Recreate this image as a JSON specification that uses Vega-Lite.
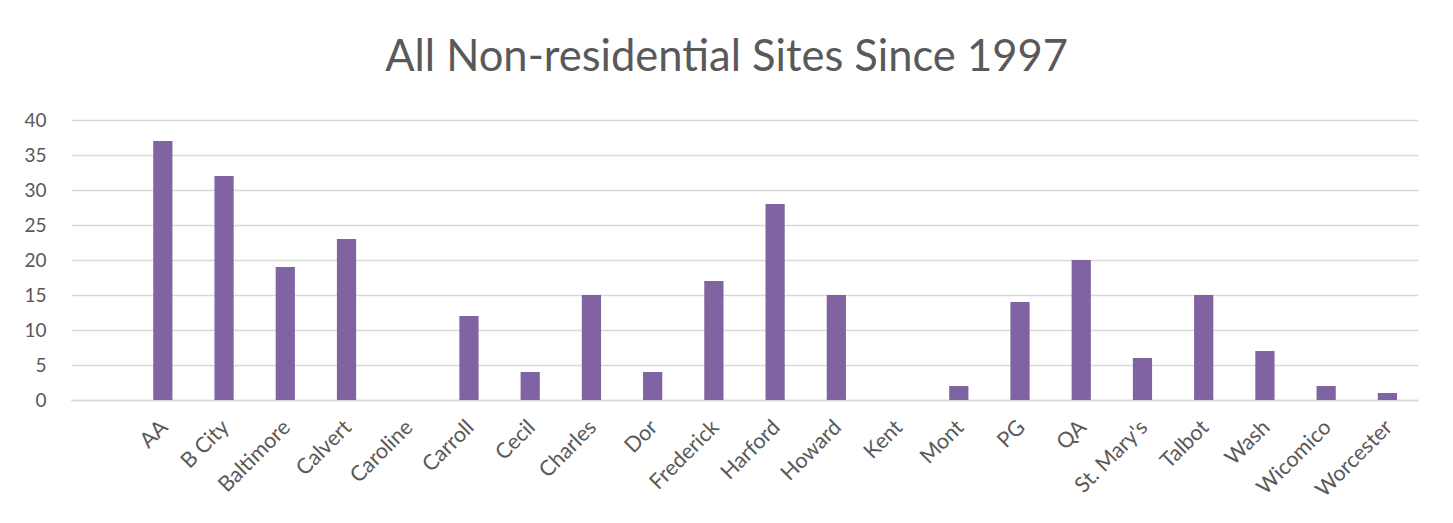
{
  "$schema": "https://vega.github.io/schema/vega-lite/v6.json",
  "autosize": "none",
  "width": 1347,
  "height": 280,
  "padding": {"left": 71, "top": 120, "right": 35, "bottom": 123},
  "background": "white",
  "title": {
    "text": "All Non-residential Sites Since 1997",
    "font": "Lato",
    "fontSize": 43.5,
    "fontWeight": "normal",
    "color": "#595959",
    "anchor": "middle",
    "dx": -18,
    "offset": 31
  },
  "data": {
    "values": [
      {"county": "AA", "sites": 37},
      {"county": "B City", "sites": 32},
      {"county": "Baltimore", "sites": 19},
      {"county": "Calvert", "sites": 23},
      {"county": "Caroline", "sites": 0},
      {"county": "Carroll", "sites": 12},
      {"county": "Cecil", "sites": 4},
      {"county": "Charles", "sites": 15},
      {"county": "Dor", "sites": 4},
      {"county": "Frederick", "sites": 17},
      {"county": "Harford", "sites": 28},
      {"county": "Howard", "sites": 15},
      {"county": "Kent", "sites": 0},
      {"county": "Mont", "sites": 2},
      {"county": "PG", "sites": 14},
      {"county": "QA", "sites": 20},
      {"county": "St. Mary's", "sites": 6},
      {"county": "Talbot", "sites": 15},
      {"county": "Wash", "sites": 7},
      {"county": "Wicomico", "sites": 2},
      {"county": "Worcester", "sites": 1}
    ]
  },
  "mark": {"type": "bar", "color": "#8064A2"},
  "encoding": {
    "x": {
      "field": "county",
      "type": "nominal",
      "sort": null,
      "scale": {
        "domain": ["", "AA", "B City", "Baltimore", "Calvert", "Caroline", "Carroll", "Cecil", "Charles", "Dor", "Frederick", "Harford", "Howard", "Kent", "Mont", "PG", "QA", "St. Mary's", "Talbot", "Wash", "Wicomico", "Worcester"],
        "paddingInner": 0.686,
        "paddingOuter": 0.343
      },
      "axis": {
        "title": null,
        "labelAngle": -45,
        "labelAlign": "right",
        "labelBaseline": "middle",
        "labelFont": "Lato",
        "labelFontSize": 21.5,
        "labelColor": "#595959",
        "labelPadding": 24,
        "labelOffset": 2,
        "ticks": false,
        "domainColor": "#d9d9d9",
        "domainWidth": 1.5,
        "grid": false
      }
    },
    "y": {
      "field": "sites",
      "type": "quantitative",
      "scale": {"domain": [0, 40]},
      "axis": {
        "title": null,
        "values": [0, 5, 10, 15, 20, 25, 30, 35, 40],
        "labelFont": "Lato",
        "labelFontSize": 19,
        "labelColor": "#595959",
        "labelPadding": 25,
        "ticks": false,
        "domain": false,
        "gridColor": "#d9d9d9",
        "gridWidth": 1.5
      }
    }
  },
  "config": {"view": {"stroke": null}}
}
